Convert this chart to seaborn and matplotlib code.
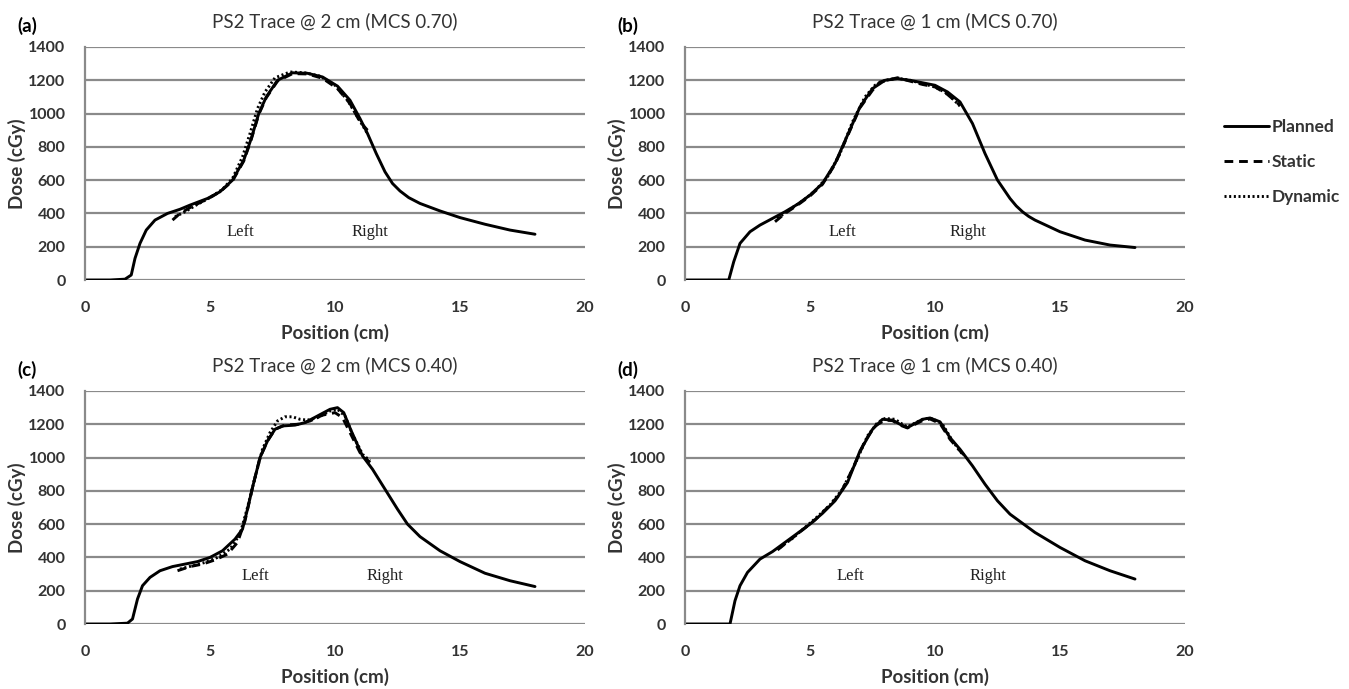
import matplotlib
matplotlib.use("Agg")
import matplotlib.pyplot as plt
import seaborn as sns

sns.set_style("white")
plt.rcParams["font.family"] = ["Lato", "DejaVu Sans"]

# ---- data (position in cm, dose in cGy) ----
# (a) PS2 Trace @ 2 cm (MCS 0.70)
a_plan_x = [0, 1.0, 1.6, 1.85, 2.0, 2.2, 2.45, 2.8, 3.3, 3.8, 4.2, 4.9, 5.4, 5.9, 6.35, 6.65,
            6.95, 7.25, 7.7, 8.3, 8.9, 9.5, 10.1, 10.6, 11.0, 11.3, 11.65, 12.0, 12.3, 12.6,
            12.95, 13.4, 14.2, 15.0, 16.0, 17.0, 18.0]
a_plan_y = [0, 0, 5, 30, 130, 220, 300, 360, 400, 425, 450, 490, 530, 600, 720, 850,
            1000, 1100, 1200, 1245, 1242, 1220, 1165, 1080, 970, 880, 760, 650, 580, 535,
            495, 460, 415, 375, 335, 300, 275]
a_stat_x = [3.5, 3.8, 4.2, 4.6, 5.0, 5.4, 5.9, 6.35, 6.65, 6.95, 7.25, 7.7, 8.3, 8.9, 9.5,
            10.1, 10.6, 11.0, 11.3]
a_stat_y = [360, 400, 435, 465, 495, 530, 595, 715, 845, 995, 1095, 1195, 1240, 1238, 1212,
            1150, 1060, 950, 900]
a_dyn_x = [3.6, 4.0, 4.5, 5.0, 5.5, 5.9, 6.3, 6.6, 6.9, 7.2, 7.6, 8.2, 8.8, 9.4, 10.0, 10.5,
           10.9, 11.3]
a_dyn_y = [380, 410, 455, 495, 545, 610, 740, 880, 1030, 1130, 1215, 1250, 1245, 1225, 1170,
           1080, 980, 880]

# (b) PS2 Trace @ 1 cm (MCS 0.70)
b_plan_x = [0, 1.0, 1.75, 1.95, 2.2, 2.6, 3.0, 3.5, 4.0, 4.5, 5.0, 5.5, 6.0, 6.5, 7.0, 7.5,
            8.0, 8.5, 9.0, 9.5, 10.0, 10.5, 11.0, 11.5, 12.0, 12.5, 13.0, 13.25, 13.5, 13.75,
            14.0, 15.0, 16.0, 17.0, 18.0]
b_plan_y = [0, 0, 0, 110, 220, 290, 330, 370, 410, 455, 510, 580, 700, 870, 1040, 1150,
            1200, 1210, 1200, 1185, 1170, 1130, 1070, 940, 760, 600, 490, 445, 410, 382,
            360, 290, 240, 210, 195]
b_stat_x = [3.6, 4.0, 4.5, 5.0, 5.5, 6.0, 6.5, 7.0, 7.5, 7.8, 8.2, 8.5, 9.0, 9.5, 10.0,
            10.5, 11.0]
b_stat_y = [350, 400, 450, 505, 575, 695, 865, 1035, 1140, 1190, 1205, 1215, 1195, 1175,
            1160, 1115, 1050]
b_dyn_x = [3.7, 4.2, 4.7, 5.2, 5.7, 6.2, 6.7, 7.2, 7.6, 8.0, 8.5, 9.0, 9.5, 10.0, 10.5, 11.0]
b_dyn_y = [370, 425, 475, 535, 620, 760, 950, 1100, 1170, 1200, 1212, 1200, 1180, 1160,
           1120, 1045]

# (c) PS2 Trace @ 2 cm (MCS 0.40)
c_plan_x = [0, 1.0, 1.7, 1.9, 2.1, 2.3, 2.6, 3.0, 3.5, 4.0, 4.5, 5.0, 5.5, 6.0, 6.3, 6.5,
            6.7, 7.0, 7.3, 7.6, 7.9, 8.4, 8.8, 9.3, 9.8, 10.1, 10.35, 10.65, 11.1, 11.5,
            12.0, 12.5, 12.9, 13.4, 14.2, 15.0, 16.0, 17.0, 18.0]
c_plan_y = [0, 0, 5, 30, 150, 230, 280, 320, 345, 360, 375, 400, 440, 510, 570, 690,
            820, 1000, 1100, 1170, 1190, 1195, 1210, 1250, 1290, 1300, 1270, 1160, 1010, 930,
            810, 690, 600, 525, 440, 375, 305, 260, 225]
c_stat_x = [3.7, 4.2, 4.7, 5.2, 5.7, 6.1, 6.4, 6.7, 7.0, 7.3, 7.6, 8.0, 8.5, 9.0, 9.5, 10.0,
            10.3, 10.6, 11.0, 11.4]
c_stat_y = [320, 345, 360, 385, 420, 490, 620, 820, 1000, 1100, 1170, 1195, 1200, 1220,
            1255, 1270, 1240, 1150, 1030, 970]
c_dyn_x = [3.8, 4.3, 4.8, 5.3, 5.8, 6.2, 6.5, 6.8, 7.1, 7.4, 7.7, 8.0, 8.3, 8.6, 8.9, 9.3,
           9.8, 10.1, 10.4, 10.7, 11.1, 11.4]
c_dyn_y = [330, 350, 370, 400, 450, 540, 700, 880, 1050, 1150, 1220, 1245, 1245, 1230, 1225,
           1240, 1280, 1290, 1250, 1140, 1020, 980]

# (d) PS2 Trace @ 1 cm (MCS 0.40)
d_plan_x = [0, 1.0, 1.8, 2.0, 2.2, 2.5, 3.0, 3.5, 4.0, 4.5, 5.0, 5.5, 6.0, 6.5, 7.0, 7.5,
            7.9, 8.3, 8.6, 8.9, 9.2, 9.5, 9.8, 10.2, 10.6, 11.0, 11.5, 12.0, 12.5, 13.0,
            14.0, 15.0, 16.0, 17.0, 18.0]
d_plan_y = [0, 0, 0, 140, 230, 310, 390, 435, 490, 545, 600, 665, 740, 850, 1040, 1170,
            1230, 1225, 1200, 1180, 1205, 1230, 1238, 1215, 1120, 1050, 950, 840, 740, 660,
            550, 460, 380, 320, 270]
d_stat_x = [3.7, 4.2, 4.7, 5.2, 5.7, 6.2, 6.7, 7.2, 7.6, 8.0, 8.3, 8.6, 8.9, 9.2, 9.5, 9.8,
            10.2, 10.6, 11.0, 11.2]
d_stat_y = [445, 505, 565, 625, 700, 780, 930, 1100, 1190, 1225, 1222, 1195, 1178, 1200,
            1222, 1232, 1205, 1110, 1040, 1010]
d_dyn_x = [3.8, 4.3, 4.8, 5.3, 5.8, 6.3, 6.8, 7.3, 7.7, 8.0, 8.4, 8.7, 8.9, 9.3, 9.6, 9.9,
           10.3, 10.7, 11.1]
d_dyn_y = [460, 515, 580, 645, 715, 810, 960, 1130, 1210, 1235, 1230, 1200, 1185, 1215,
           1235, 1235, 1200, 1100, 1020]

panel_tags = ["(a)", "(b)", "(c)", "(d)"]
panel_titles = ["PS2 Trace @ 2 cm (MCS 0.70)", "PS2 Trace @ 1 cm (MCS 0.70)",
                "PS2 Trace @ 2 cm (MCS 0.40)", "PS2 Trace @ 1 cm (MCS 0.40)"]
left_label_x = [6.2, 6.3, 6.8, 6.6]
right_label_x = [11.4, 11.3, 12.0, 12.1]
x_ticks = [0, 5, 10, 15, 20]
y_ticks = [0, 200, 400, 600, 800, 1000, 1200, 1400]
series_names = ["Planned", "Static", "Dynamic"]

panels = [
    ((a_plan_x, a_plan_y), (a_stat_x, a_stat_y), (a_dyn_x, a_dyn_y)),
    ((b_plan_x, b_plan_y), (b_stat_x, b_stat_y), (b_dyn_x, b_dyn_y)),
    ((c_plan_x, c_plan_y), (c_stat_x, c_stat_y), (c_dyn_x, c_dyn_y)),
    ((d_plan_x, d_plan_y), (d_stat_x, d_stat_y), (d_dyn_x, d_dyn_y)),
]

W, H = 1349, 689
fig = plt.figure(figsize=(W / 100, H / 100), dpi=100)

# plot areas in pixels: left, top
boxes = [(85, 47), (685, 47), (85, 391), (685, 391)]
pw, ph = 500, 233

grid_col = "#8a8a8a"
text_col = "#333333"
styles = ["-", (0, (3, 2)), (0, (0.7, 0.9))]
handles = []

for i, (series, (bx, by)) in enumerate(zip(panels, boxes)):
    ax = fig.add_axes([bx / W, 1 - (by + ph) / H, pw / W, ph / H])
    for (xs, ys), ls in zip(series, styles):
        sns.lineplot(x=xs, y=ys, ax=ax, color="black", lw=2.1, linestyle=ls,
                     estimator=None, sort=False)
        if i == 1:
            handles.append(ax.lines[-1])
    for ln in ax.lines:
        ln.set_solid_joinstyle("round")
        ln.set_solid_capstyle("round")

    ax.set_xlim(0, 20)
    ax.set_ylim(0, 1400)
    ax.set_xticks(x_ticks)
    ax.set_yticks(y_ticks)
    ax.yaxis.grid(True, color=grid_col, lw=1.6)
    ax.set_axisbelow(True)
    for s in ["top", "right", "bottom"]:
        ax.spines[s].set_visible(False)
    ax.spines["left"].set_color(grid_col)
    ax.spines["left"].set_linewidth(1.6)
    ax.tick_params(axis="both", length=0, labelsize=11.5, colors=text_col)
    ax.tick_params(axis="y", pad=14)
    ax.tick_params(axis="x", pad=15)
    for lab in ax.get_xticklabels() + ax.get_yticklabels():
        lab.set_fontweight("bold")

    ax.set_xlabel("Position (cm)", fontsize=13.5, fontweight="bold", color=text_col)
    ax.set_ylabel("Dose (cGy)", fontsize=13.5, fontweight="bold", color=text_col)
    ax.xaxis.set_label_coords(0.5, -53 / ph)
    ax.xaxis.label.set_va("center")
    ax.yaxis.set_label_coords(-68 / pw, 0.5)
    ax.yaxis.label.set_va("center")

    ax.text(0.5, 1 + 26 / ph, panel_titles[i], transform=ax.transAxes, ha="center",
            va="center", fontsize=13.5, color=text_col)
    fig.text((bx - 68) / W, 1 - (by - 21) / H, panel_tags[i], ha="left", va="center",
             fontsize=13.5, fontweight="bold", color="black")

    ax.text(left_label_x[i], 290, "Left", ha="center", va="center",
            family="Liberation Serif", fontsize=12, color="#222222")
    ax.text(right_label_x[i], 290, "Right", ha="center", va="center",
            family="Liberation Serif", fontsize=12, color="#222222")

fig.legend(handles, series_names, loc="upper left", bbox_to_anchor=(1208 / W, 1 - 103 / H),
           frameon=False, handlelength=2.6, handletextpad=0.15, labelspacing=1.1,
           prop={"size": 12.5, "weight": "bold"}, labelcolor=text_col)

fig.savefig("out.png", dpi=100)
